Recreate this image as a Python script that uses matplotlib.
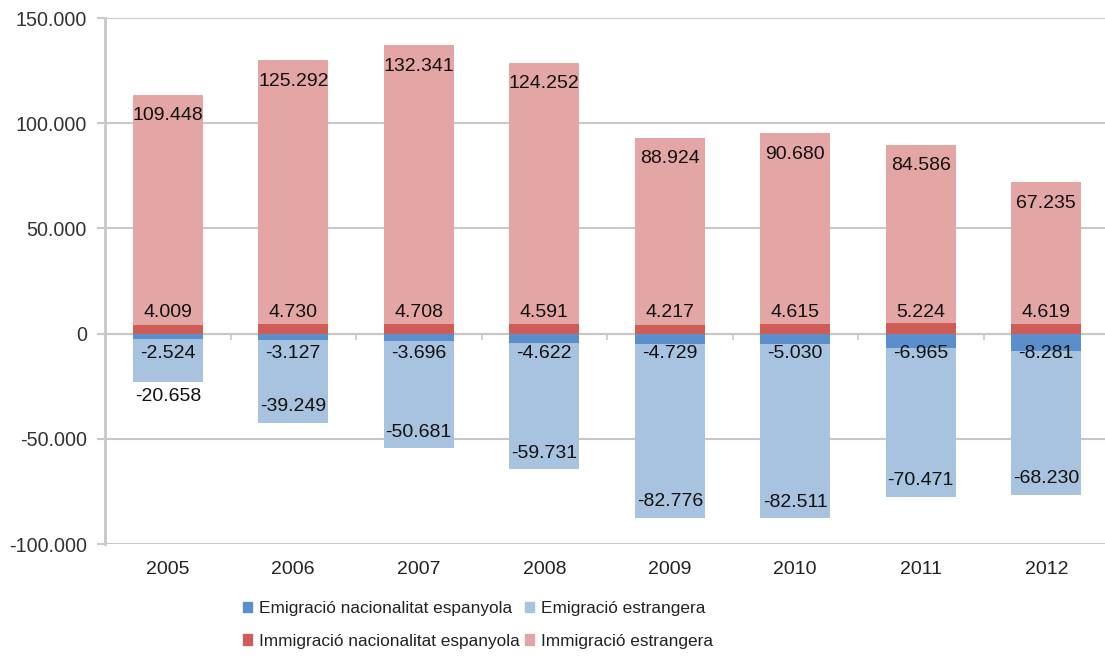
import numpy as np
import matplotlib
matplotlib.use("Agg")
import matplotlib.pyplot as plt
from matplotlib.patches import Patch

plt.rcParams["font.family"] = ["Liberation Sans", "DejaVu Sans"]

# === DATA ===================================================================
years = ["2005", "2006", "2007", "2008", "2009", "2010", "2011", "2012"]
emig_esp = [-2524, -3127, -3696, -4622, -4729, -5030, -6965, -8281]
emig_estr = [-20658, -39249, -50681, -59731, -82776, -82511, -70471, -68230]
immig_esp = [4009, 4730, 4708, 4591, 4217, 4615, 5224, 4619]
immig_estr = [109448, 125292, 132341, 124252, 88924, 90680, 84586, 67235]

series_names = [
    "Emigració nacionalitat espanyola",
    "Emigració estrangera",
    "Immigració nacionalitat espanyola",
    "Immigració estrangera",
]
# ============================================================================

C_EMIG_ESP = "#5a8fcc"
C_EMIG_ESTR = "#a7c3df"
C_IMMIG_ESP = "#cf5d57"
C_IMMIG_ESTR = "#e3a6a5"
GRID = "#c8c8c8"

YMIN, YMAX = -100000, 150000


def fmt(v):
    return f"{v:,.0f}".replace(",", ".")


x = np.arange(len(years))
w = 0.56

fig = plt.figure(figsize=(11.05, 6.57), dpi=100)
ax = fig.add_axes([105 / 1105, 113 / 657, 1004 / 1105, 526 / 657])

emig_esp_a = np.array(emig_esp)
emig_estr_a = np.array(emig_estr)
immig_esp_a = np.array(immig_esp)
immig_estr_a = np.array(immig_estr)

ax.bar(x, emig_esp_a, w, color=C_EMIG_ESP, zorder=3)
ax.bar(x, emig_estr_a, w, bottom=emig_esp_a, color=C_EMIG_ESTR, zorder=3)
ax.bar(x, immig_esp_a, w, color=C_IMMIG_ESP, zorder=3)
ax.bar(x, immig_estr_a, w, bottom=immig_esp_a, color=C_IMMIG_ESTR, zorder=3)

# data labels
lab = dict(ha="center", va="center", fontsize=14, color="#111111", zorder=5)
for i in range(len(years)):
    top = immig_esp_a[i] + immig_estr_a[i]
    bot = emig_esp_a[i] + emig_estr_a[i]
    ax.text(x[i], top - 10000, fmt(immig_estr_a[i]), **lab)
    ax.text(x[i], 10000, fmt(immig_esp_a[i]), **lab)
    ax.text(x[i], -9500, fmt(emig_esp_a[i]), **lab)
    if abs(bot) < 30000:
        ax.text(x[i], bot - 6500, fmt(emig_estr_a[i]), **lab)
    else:
        ax.text(x[i], bot + 7500, fmt(emig_estr_a[i]), **lab)

ax.set_xlim(-0.5, len(years) - 0.5)
ax.set_ylim(YMIN, YMAX)
ax.set_yticks(np.arange(YMIN, YMAX + 1, 50000))
ax.set_yticklabels([fmt(v) for v in np.arange(YMIN, YMAX + 1, 50000)])
ax.yaxis.grid(True, color=GRID, linewidth=1.5, zorder=0)
ax.set_axisbelow(True)

ax.set_xticks(x)
ax.set_xticklabels(years)
ax.tick_params(axis="x", length=0, pad=12, labelsize=14, colors="#222222")
ax.tick_params(axis="y", length=6, width=1.5, color=GRID, pad=7,
               labelsize=14.2, labelcolor="#333333")

for s in ["top", "right", "bottom"]:
    ax.spines[s].set_visible(False)
ax.spines["left"].set_color(GRID)
ax.spines["left"].set_linewidth(2)

# zero line with category boundary ticks
zero_frac = (0 - YMIN) / (YMAX - YMIN)
sec = ax.secondary_xaxis(zero_frac)
sec.set_xticks(np.arange(-0.5, len(years), 1.0))
sec.set_xticklabels([])
sec.tick_params(length=4, width=1.2, color=GRID, direction="out")
sec.spines["bottom"].set_color(GRID)
sec.spines["bottom"].set_linewidth(1.5)

handles = [
    Patch(color=C_EMIG_ESP, label=series_names[0]),
    Patch(color=C_IMMIG_ESP, label=series_names[2]),
    Patch(color=C_EMIG_ESTR, label=series_names[1]),
    Patch(color=C_IMMIG_ESTR, label=series_names[3]),
]
fig.legend(handles=handles, ncol=2, loc="center", bbox_to_anchor=(478 / 1105, 1 - 625 / 657),
           frameon=False, fontsize=12.4, handlelength=0.55, handleheight=0.55,
           handletextpad=0.4, columnspacing=0.3, labelspacing=1.0,
           labelcolor="#222222")

fig.savefig("out.png", dpi=100)
